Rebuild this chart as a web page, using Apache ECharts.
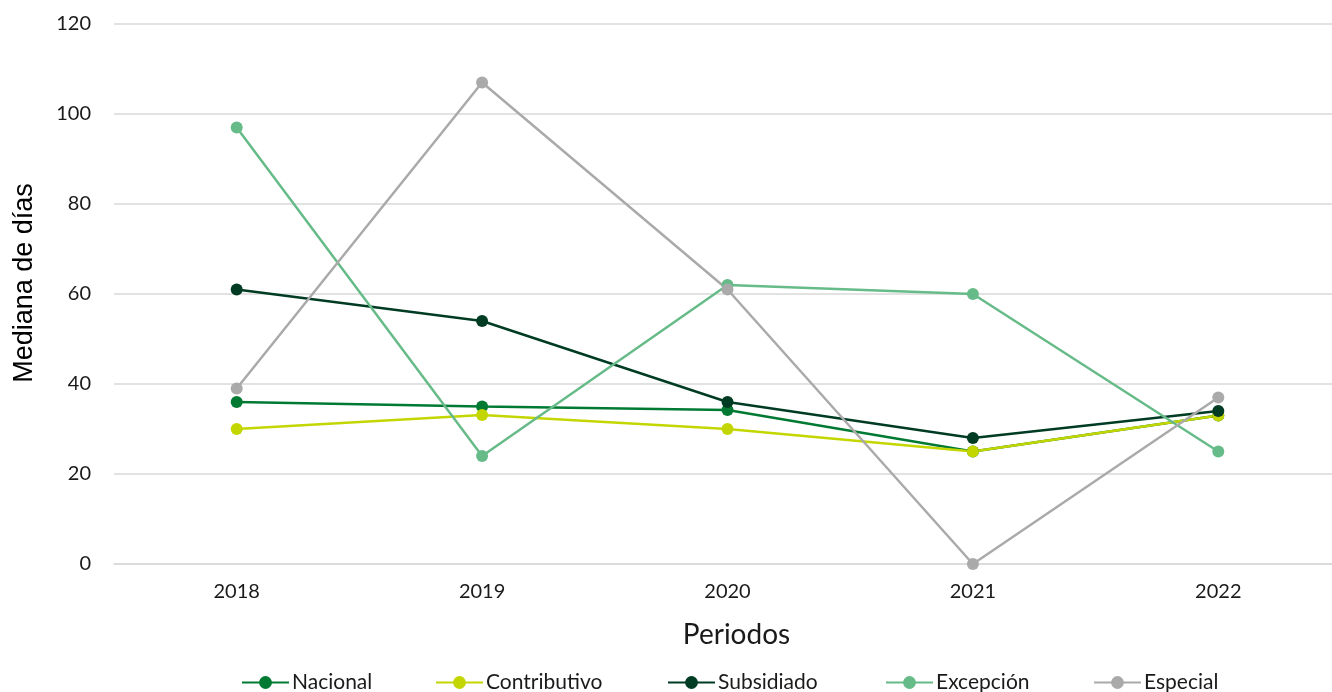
<!DOCTYPE html>
<html>
<head>
<meta charset="utf-8">
<script src="https://cdn.jsdelivr.net/npm/echarts@6/dist/echarts.min.js"></script>
<style>
html,body{margin:0;padding:0;background:#fff;overflow:hidden;width:1332px;height:692px;}
#chart{width:1341px;height:692px;}
</style>
</head>
<body>
<div id="chart"></div>
<script>
const categories = ['2018', '2019', '2020', '2021', '2022'];
const nacional = [36, 35, 34.2, 25, 33];
const contributivo = [30, 33.1, 30, 25, 33];
const subsidiado = [61, 54, 36, 28, 34];
const excepcion = [97, 24, 62, 60, 25];
const especial = [39, 107, 61, 0, 37];
const seriesNames = ['Nacional', 'Contributivo', 'Subsidiado', 'Excepción', 'Especial'];
const seriesColors = ['#007A33', '#C4D600', '#003B24', '#66BB88', '#AAAAAA'];
const yTicks = [0, 20, 40, 60, 80, 100, 120];

const dataSets = [nacional, contributivo, subsidiado, excepcion, especial];
const FONT = 'Lato, "Noto Sans", sans-serif';
const legendLefts = [241, 435, 667, 885, 1093];

const chart = echarts.init(document.getElementById('chart'), null, {renderer: 'canvas'});
chart.setOption({
  animation: false,
  backgroundColor: '#ffffff',
  textStyle: {fontFamily: FONT},
  grid: {left: 114, right: 0, top: 24, bottom: 128, containLabel: false},
  legend: seriesNames.map((n, i) => ({
    data: [n],
    left: legendLefts[i],
    top: 672,
    padding: 0,
    itemWidth: 47,
    itemHeight: 16,
    textStyle: {fontFamily: FONT, fontSize: 21, color: '#1a1a1a', padding: [0, 0, 0, -2]}
  })),
  xAxis: {
    type: 'category',
    data: categories,
    boundaryGap: true,
    name: 'Periodos',
    nameLocation: 'middle',
    nameGap: 57,
    nameTextStyle: {fontFamily: FONT, fontSize: 28, color: '#1a1a1a', padding: [0, 0, 0, 18]},
    axisLine: {show: true, lineStyle: {color: '#d9d9d9', width: 1.5}},
    axisTick: {show: false},
    axisLabel: {fontFamily: FONT, fontSize: 20, color: '#1a1a1a', margin: 18}
  },
  yAxis: {
    type: 'value',
    min: yTicks[0],
    max: yTicks[yTicks.length - 1],
    interval: 20,
    name: 'Mediana de días',
    nameLocation: 'middle',
    nameGap: 76,
    nameTextStyle: {fontFamily: '"Liberation Sans", Arial, sans-serif', fontSize: 27, color: '#000000', padding: [0, 0, 0, 22]},
    axisLine: {show: false},
    axisTick: {show: false},
    axisLabel: {fontFamily: FONT, fontSize: 20, color: '#1a1a1a', margin: 23},
    splitLine: {lineStyle: {color: '#d9d9d9', width: 1.5}}
  },
  series: seriesNames.map((n, i) => ({
    name: n,
    type: 'line',
    data: dataSets[i],
    color: seriesColors[i],
    symbol: 'circle',
    symbolSize: 12,
    showSymbol: true,
    lineStyle: {width: 2.5, color: seriesColors[i]},
    itemStyle: {color: seriesColors[i]}
  }))
});
</script>
</body>
</html>
